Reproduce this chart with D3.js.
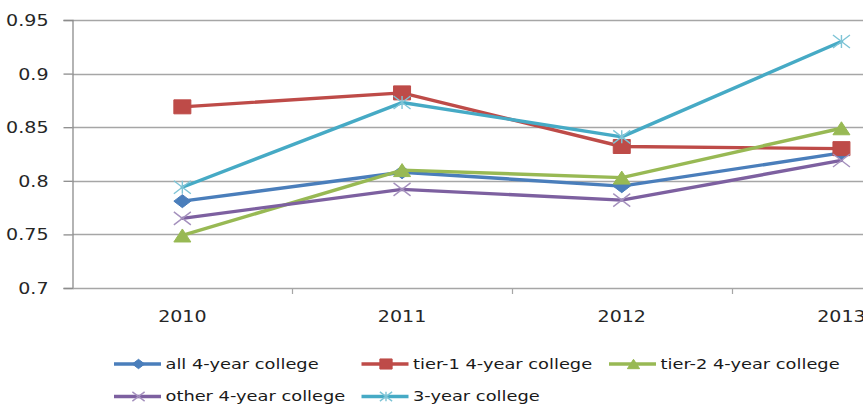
<!DOCTYPE html>
<html>
<head>
<meta charset="utf-8">
<script src="https://cdn.jsdelivr.net/npm/d3@7"></script>
<style>
  html, body { margin: 0; padding: 0; background: #fff; overflow: hidden; }
  svg { display: block; font-family: "DejaVu Sans", sans-serif; }
</style>
</head>
<body>
<svg id="chart" width="863" height="405"></svg>
<script>
// Categories and series
const years = ["2010", "2011", "2012", "2013"];
const allFour   = [0.781, 0.808, 0.795, 0.826];
const tierOne   = [0.869, 0.882, 0.832, 0.830];
const tierTwo   = [0.749, 0.810, 0.803, 0.849];
const otherFour = [0.765, 0.792, 0.782, 0.819];
const threeYear = [0.794, 0.873, 0.841, 0.930];
const yTicks = [0.7, 0.75, 0.8, 0.85, 0.9, 0.95];
const seriesNames = ["all 4-year college", "tier-1 4-year college", "tier-2 4-year college",
                     "other 4-year college", "3-year college"];

const series = [
  { name: seriesNames[0], values: allFour,   color: "#4a7ebb", marker: "diamond" },
  { name: seriesNames[1], values: tierOne,   color: "#be4b48", marker: "square" },
  { name: seriesNames[2], values: tierTwo,   color: "#98b954", marker: "triangle" },
  { name: seriesNames[3], values: otherFour, color: "#7d60a0", marker: "x" },
  { name: seriesNames[4], values: threeYear, color: "#46aac5", marker: "star" }
];

const svg = d3.select("#chart");
const plot = { left: 72.5, top: 20, bottom: 288, band: 219.7 };
const TX = 1.27;   // horizontal text stretch

const x = d3.scaleBand().domain(years)
  .range([plot.left, plot.left + plot.band * years.length]).paddingInner(0).paddingOuter(0);
const cx = d => x(d) + x.bandwidth() / 2;
const y = d3.scaleLinear().domain([0.7, 0.95]).range([plot.bottom, plot.top]);

// Horizontal gridlines
svg.append("g").selectAll("line").data(yTicks.filter(t => t > 0.7)).join("line")
  .attr("x1", plot.left).attr("x2", 863)
  .attr("y1", d => Math.round(y(d)) + 0.5).attr("y2", d => Math.round(y(d)) + 0.5)
  .attr("stroke", "#a6a6a6").attr("stroke-width", 1.3);

// Y axis
const yAxis = svg.append("g").attr("transform", `translate(${plot.left},0)`)
  .call(d3.axisLeft(y).tickValues(yTicks).tickSize(9).tickPadding(0).tickFormat(d => String(+d.toFixed(2))));
yAxis.select(".domain").attr("stroke", "#8c8c8c").attr("stroke-width", 1.3);
yAxis.selectAll(".tick line").attr("stroke", "#8c8c8c").attr("stroke-width", 1.3);
yAxis.selectAll(".tick text")
  .attr("x", 0).attr("dy", "0.36em")
  .attr("transform", `translate(-24,0) scale(${TX},1)`)
  .attr("fill", "#262626").style("font-size", "15px").style("font-family", "DejaVu Sans");

// X axis
const xAxis = svg.append("g").attr("transform", `translate(0,${plot.bottom})`)
  .call(d3.axisBottom(x).tickSize(0).tickPadding(0));
xAxis.select(".domain").attr("stroke", "#a6a6a6").attr("stroke-width", 1.6);
xAxis.selectAll(".tick text")
  .attr("y", 0).attr("dy", 0)
  .attr("transform", `translate(0,34) scale(${TX},1)`)
  .attr("fill", "#262626").style("font-size", "15px").style("font-family", "DejaVu Sans");
// Category boundary ticks
xAxis.append("g").selectAll("line").data(years.slice(1)).join("line")
  .attr("x1", d => Math.round(x(d)) + 0.5).attr("x2", d => Math.round(x(d)) + 0.5)
  .attr("y1", 0).attr("y2", 6).attr("stroke", "#a6a6a6").attr("stroke-width", 1.2);

// Marker shapes (w, h = outer width and height)
function markerPath(type, w, h) {
  const a = w / 2, b = h / 2;
  switch (type) {
    case "diamond": return `M0,${-b}L${a},0L0,${b}L${-a},0Z`;
    case "square": return `M${-a},${-b}H${a}V${b}H${-a}Z`;
    case "triangle": return `M0,${-b}L${a},${b}L${-a},${b}Z`;
    case "x": return `M${-a},${-b}L${a},${b}M${-a},${b}L${a},${-b}`;
    case "star": return `M${-a},${-b}L${a},${b}M${-a},${b}L${a},${-b}M0,${-b}V${b}`;
  }
}
function drawMarker(g, s, px, py, scale) {
  const open = s.marker === "x" || s.marker === "star";
  const light = d3.interpolateRgb(s.color, "#ffffff")(0.3);
  g.append("path")
    .attr("transform", `translate(${px},${py})`)
    .attr("d", markerPath(s.marker, 17 * scale, (s.marker === "square" ? 14 : 13) * scale))
    .attr("fill", open ? "none" : s.color)
    .attr("stroke", open ? light : s.color)
    .attr("stroke-width", open ? 1.4 : 1);
}

// Series lines and markers
const line = d3.line().x((d, i) => cx(years[i])).y(d => y(d));
const gSeries = svg.append("g");
series.forEach(s => {
  const g = gSeries.append("g");
  g.append("path").datum(s.values).attr("d", line)
    .attr("fill", "none").attr("stroke", s.color).attr("stroke-width", 3.4)
    .attr("stroke-linejoin", "round").attr("stroke-linecap", "round");
  s.values.forEach((v, i) => drawMarker(g, s, cx(years[i]), y(v), 1));
});

// Legend
const legendCols = [114, 361.5, 609];
const legendRows = [364, 396.5];
const legend = svg.append("g");
series.forEach((s, i) => {
  const lx = legendCols[i % 3], ly = legendRows[Math.floor(i / 3)];
  const g = legend.append("g");
  g.append("line").attr("x1", lx).attr("x2", lx + 47).attr("y1", ly).attr("y2", ly)
    .attr("stroke", s.color).attr("stroke-width", 3.4);
  drawMarker(g, s, lx + 24.5, ly, 0.72);
  g.append("text").attr("transform", `translate(${lx + 51.5},${ly}) scale(${TX + 0.08},1)`)
    .attr("dy", "0.35em").attr("fill", "#1a1a1a")
    .style("font-size", "13.2px").text(s.name);
});
</script>
</body>
</html>
